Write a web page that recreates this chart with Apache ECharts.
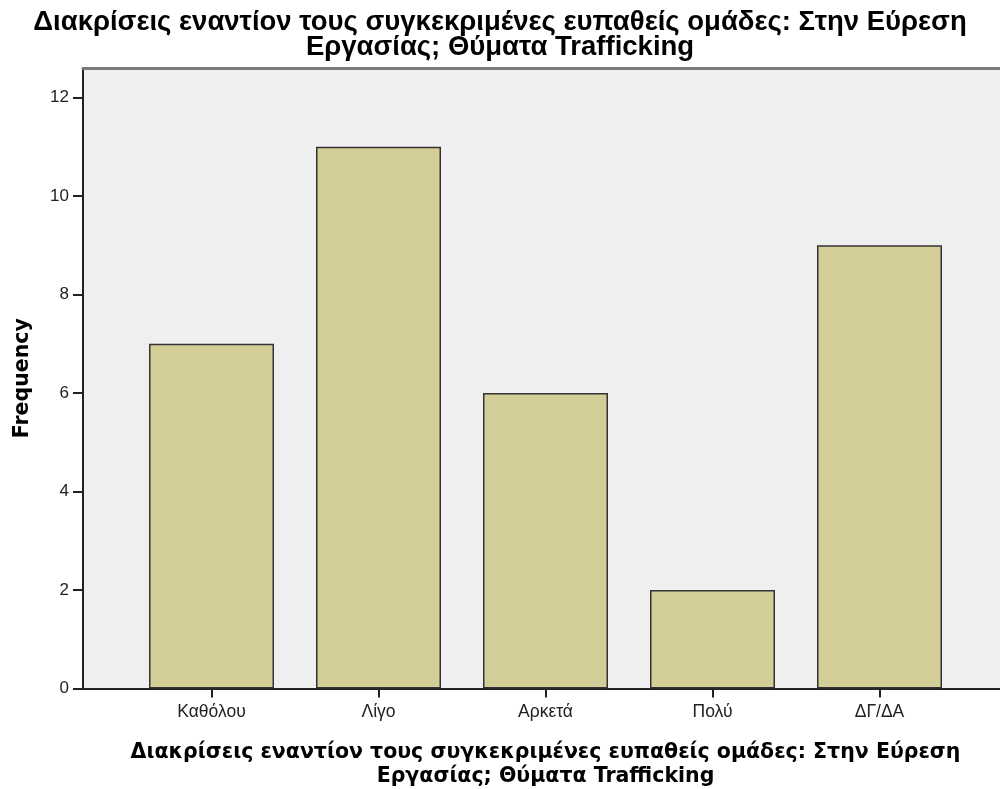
<!DOCTYPE html>
<html><head><meta charset="utf-8">
<script src="https://cdn.jsdelivr.net/npm/echarts@6/dist/echarts.min.js"></script>
<style>html,body{margin:0;padding:0;background:#fff}#c{width:1000px;height:789px}</style>
</head><body><div id="c"></div>
<script>
const categories = ['Καθόλου', 'Λίγο', 'Αρκετά', 'Πολύ', 'ΔΓ/ΔΑ'];
const frequency = [7, 11, 6, 2, 9];
const yTicks = [0, 2, 4, 6, 8, 10, 12];
const titleText = 'Διακρίσεις εναντίον τους συγκεκριμένες ευπαθείς ομάδες: Στην Εύρεση\nΕργασίας; Θύματα Trafficking';

const chart = echarts.init(document.getElementById('c'));
const yMax = 12.6;
chart.setOption({
  animation: false,
  title: {
    text: titleText, left: 'center', top: 5,
    textStyle: {fontFamily: 'Liberation Sans', fontWeight: 'bold', fontSize: 27.5, lineHeight: 25, color: '#000'}
  },
  grid: [
    {left: 83, right: 0, top: 68, bottom: 100.5, show: true, backgroundColor: '#efefef', borderWidth: 0, outerBoundsMode: 'none', containLabel: false},
    {left: 128, right: 37, top: 68, bottom: 100.5, outerBoundsMode: 'none', containLabel: false}
  ],
  xAxis: [
    {type: 'category', gridIndex: 0, data: [''], axisLine: {lineStyle: {color: '#222', width: 2}}, axisTick: {show: false}, axisLabel: {show: false}},
    {type: 'category', gridIndex: 0, position: 'top', data: [''], axisLine: {lineStyle: {color: '#7a7a7a', width: 3}}, axisTick: {show: false}, axisLabel: {show: false}},
    {type: 'category', gridIndex: 1, data: categories, axisLine: {show: false},
     axisTick: {show: true, alignWithLabel: true, length: 9, lineStyle: {color: '#222', width: 2}},
     axisLabel: {color: '#222', fontFamily: 'Liberation Sans', fontSize: 17.5, margin: 15},
     name: titleText, nameLocation: 'middle', nameGap: 52,
     nameTextStyle: {fontFamily: 'DejaVu Sans', fontWeight: 'bold', fontSize: 20.5, lineHeight: 24, color: '#000'}}
  ],
  yAxis: [
    {type: 'value', gridIndex: 0, min: 0, max: yMax, interval: 2,
     axisLine: {show: true, lineStyle: {color: '#222', width: 2}},
     axisTick: {show: true, length: 10, customValues: yTicks, lineStyle: {color: '#222', width: 2}},
     splitLine: {show: false},
     axisLabel: {color: '#222', fontFamily: 'Liberation Sans', fontSize: 17, margin: 14, customValues: yTicks},
     name: 'Frequency', nameLocation: 'middle', nameGap: 50, nameRotate: 90,
     nameTextStyle: {fontFamily: 'DejaVu Sans', fontWeight: 'bold', fontSize: 20.5, color: '#000'}},
    {type: 'value', gridIndex: 1, min: 0, max: yMax, show: false, splitLine: {show: false}}
  ],
  series: [{
    type: 'bar', xAxisIndex: 2, yAxisIndex: 1, data: frequency, barWidth: 125,
    itemStyle: {color: '#d3ce98', borderColor: '#333', borderWidth: 1.5}
  }]
});
</script></body></html>
